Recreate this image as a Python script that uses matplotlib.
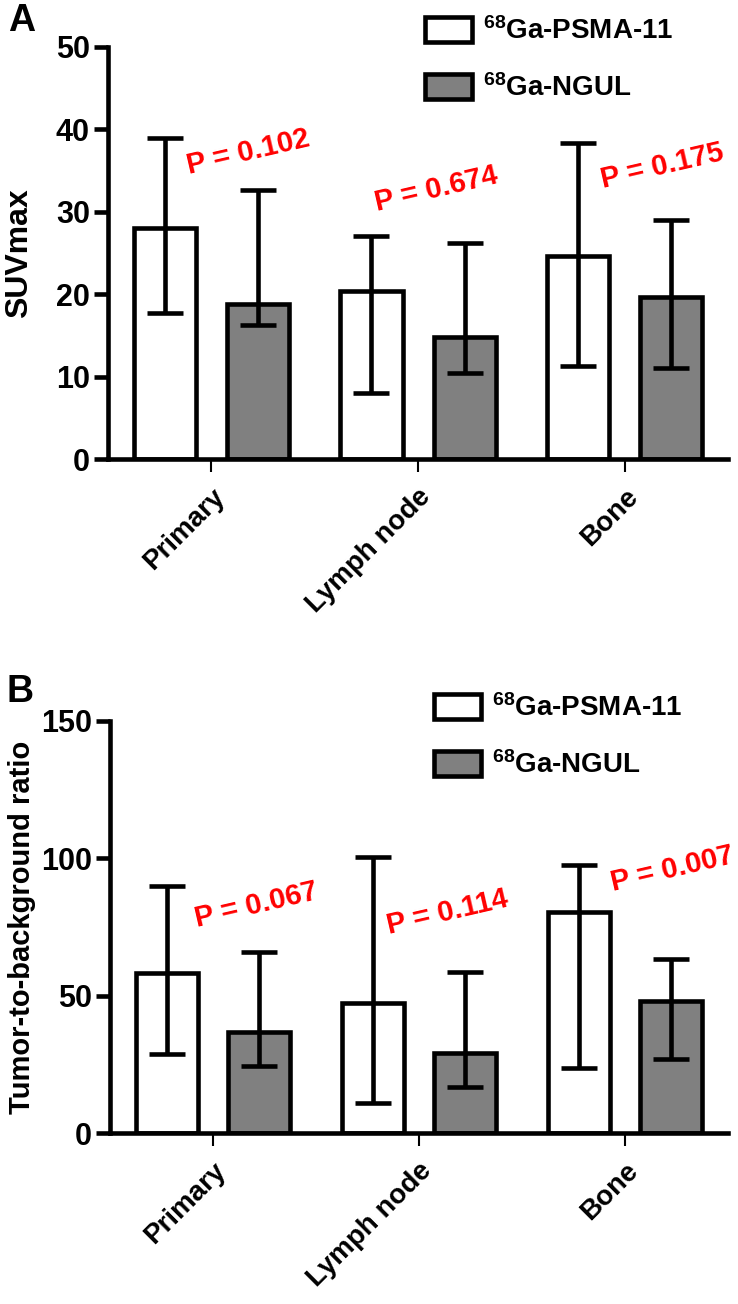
#!/usr/bin/env python
# -*- coding: utf-8 -*-

import numpy as np
import matplotlib
matplotlib.use('Agg')
import matplotlib.pyplot as plt
from matplotlib.patches import Patch


############################################
#                                          #
#                 DATA                     #
#                                          #
############################################

categories = ['Primary', 'Lymph node', 'Bone']
series = ['$^{68}$Ga-PSMA-11', '$^{68}$Ga-NGUL']

# panel A - SUVmax (bar value, lower and upper whisker ends)
suv_psma = [28.0, 20.4, 24.6]
suv_psma_low = [17.7, 8.0, 11.3]
suv_psma_high = [38.9, 27.0, 38.3]
suv_ngul = [18.8, 14.8, 19.6]
suv_ngul_low = [16.3, 10.4, 11.0]
suv_ngul_high = [32.6, 26.2, 29.0]
suv_p = ['P = 0.102', 'P = 0.674', 'P = 0.175']

# panel B - tumor-to-background ratio
tbr_psma = [58.2, 47.5, 80.4]
tbr_psma_low = [28.7, 10.9, 23.6]
tbr_psma_high = [89.8, 100.4, 97.5]
tbr_ngul = [36.7, 29.1, 48.0]
tbr_ngul_low = [24.4, 16.7, 26.9]
tbr_ngul_high = [65.8, 58.5, 63.3]
tbr_p = ['P = 0.067', 'P = 0.114', 'P = 0.007']


############################################
#                                          #
#                 STYLE                    #
#                                          #
############################################

plt.rcParams['font.family'] = ['Liberation Sans', 'DejaVu Sans']
plt.rcParams['font.weight'] = 'bold'
plt.rcParams['mathtext.fontset'] = 'custom'
plt.rcParams['mathtext.rm'] = 'Liberation Sans:bold'
plt.rcParams['mathtext.default'] = 'rm'

gray = '#808080'
lw = 3.3


def draw_panel(ax, psma, psma_lo, psma_hi, ngul, ngul_lo, ngul_hi,
               ymax, ystep, ylabel, ylabel_size, pvals, ppos):
    x = np.arange(len(categories))
    groups = [(psma, psma_lo, psma_hi, -0.225, 'white'),
              (ngul, ngul_lo, ngul_hi, 0.225, gray)]
    for vals, lo, hi, off, color in groups:
        ax.bar(x + off, vals, 0.3, color=color, edgecolor='black',
               linewidth=lw, zorder=2)
        yerr = [np.subtract(vals, lo), np.subtract(hi, vals)]
        ax.errorbar(x + off, vals, yerr=yerr, fmt='none', ecolor='black',
                    elinewidth=lw, capsize=13, capthick=lw, zorder=3)

    ax.set_xlim(-0.5, 2.5)
    ax.set_ylim(0, ymax)
    ax.set_yticks(np.arange(0, ymax + 1, ystep))
    ax.set_xticks(x)
    ax.set_xticklabels(categories, rotation=45, ha='right',
                       rotation_mode='anchor', fontsize=20)

    for side in ['top', 'right']:
        ax.spines[side].set_visible(False)
    for side in ['left', 'bottom']:
        ax.spines[side].set_linewidth(lw)

    ax.tick_params(axis='y', direction='out', length=10, width=lw,
                   labelsize=22, pad=3)
    ax.tick_params(axis='x', direction='out', length=9, width=1.5, pad=9)
    ax.set_ylabel(ylabel, fontsize=ylabel_size, fontweight='bold')
    ax.yaxis.set_label_coords(-0.12, 0.5)

    for txt, (px, py) in zip(pvals, ppos):
        ax.text(px, py, txt, color='red', fontsize=21, fontweight='bold',
                rotation=13, ha='center', va='center',
                rotation_mode='anchor', clip_on=False)


def add_legend(fig, anchor):
    handles = [Patch(facecolor='white', edgecolor='black', linewidth=lw),
               Patch(facecolor=gray, edgecolor='black', linewidth=lw)]
    fig.legend(handles, series, loc='upper left', bbox_to_anchor=anchor,
               frameon=False, fontsize=20, borderpad=0, borderaxespad=0,
               handlelength=1.7, handleheight=1.0, handletextpad=0.4,
               labelspacing=1.05)


############################################
#                                          #
#                  PLOT                    #
#                                          #
############################################

fig = plt.figure(figsize=(7.38, 13.04), dpi=100)

ax_a = fig.add_axes([0.1463, 0.648, 0.8402, 0.316])
draw_panel(ax_a, suv_psma, suv_psma_low, suv_psma_high,
           suv_ngul, suv_ngul_low, suv_ngul_high,
           50, 10, 'SUVmax', 23, suv_p,
           [(0.18, 37.2), (1.09, 32.7), (2.18, 35.6)])
add_legend(fig, (0.576, 0.987))
fig.text(0.029, 0.984, 'A', fontsize=27, fontweight='bold',
         ha='center', va='center')

ax_b = fig.add_axes([0.149, 0.1311, 0.8374, 0.316])
draw_panel(ax_b, tbr_psma, tbr_psma_low, tbr_psma_high,
           tbr_ngul, tbr_ngul_low, tbr_ngul_high,
           150, 50, 'Tumor-to-background ratio', 21, tbr_p,
           [(0.21, 82.9), (1.14, 80.4), (2.23, 96.0)])
add_legend(fig, (0.588, 0.468))
fig.text(0.027, 0.469, 'B', fontsize=27, fontweight='bold',
         ha='center', va='center')

fig.savefig('out.png', dpi=100)
